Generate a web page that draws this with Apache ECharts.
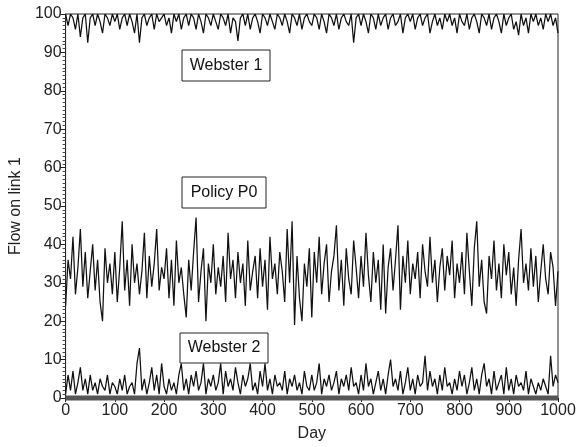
<!DOCTYPE html>
<html><head><meta charset="utf-8">
<script src="https://cdn.jsdelivr.net/npm/echarts@6/dist/echarts.min.js"></script>
<style>html,body{margin:0;padding:0;background:#fff}#c{width:579px;height:447px}</style>
</head><body><div id="c"></div>
<script>
// sampled every 5 days, day 0 .. 1000
const dayStep = 5;
const webster1 = [
100,97,100,99,96,100,94,99,100,92.5,
99,100,97,100,98,95,100,99,97,100,
98,100,96,99,100,97,100,98,95,100,
92.5,99,100,97,99,100,96,100,98,99,
100,97,99,95,100,98,100,96,99,100,
97,100,99,96,100,98,95,100,99,97,
100,98,96,100,99,97,100,95,99,98,
93,99,100,97,100,96,99,100,98,95,
100,99,97,100,98,96,100,99,97,100,
98,95,100,99,97,100,96,99,100,98,
97,100,99,96,100,98,95,100,99,97,
100,96,99,100,98,97,100,92.5,99,100,
97,100,98,95,100,99,96,100,97,99,
100,96,99,100,97,98,100,95,99,100,
98,100,96,99,100,97,99,100,95,98,
100,97,99,96,100,98,100,97,99,95,
100,98,97,100,96,99,100,98,95,100,
99,97,100,96,99,100,98,95,100,97,
99,100,96,98,94.5,100,97,99,95,100,
98,100,97,99,96,100,98,100,97,99,
95];
const policyP0 = [
24,36,31,42,27,34,44,29,38,26,
33,40,28,36,25,20,39,30,35,27,
38,25,34,46,28,36,24,40,30,35,
27,33,43,26,37,29,35,44,28,34,
31,39,26,36,24,41,30,34,27,21,
36,28,38,47,25,33,39,20,35,30,
40,27,34,29,37,25,43,31,36,26,
38,30,35,24,41,28,33,37,26,39,
29,36,23,42,31,35,27,38,33,25,
44,30,46,19,37,26,20,35,29,39,
21,38,30,42,27,35,40,25,33,37,
45,28,36,24,39,31,27,41,34,26,
37,29,43,32,25,38,30,36,23,40,
22,34,39,28,36,45,23,37,30,41,
27,35,31,38,26,40,33,29,42,30,
36,25,34,39,28,37,32,41,26,35,
30,38,27,43,33,24,39,46,29,36,
25,22,37,31,41,28,35,26,40,32,
38,27,34,24,36,44,30,35,28,39,
29,37,25,33,40,31,27,38,34,24,
33];
const webster2 = [
1,6,2,7,1,4,8,2,5,1,
6,2,4,1,5,3,2,6,1,4,
3,1,5,2,6,1,3,4,1,9,
13,2,5,1,4,8,2,6,1,9,
3,1,5,2,4,1,6,9,2,5,
1,6,3,7,2,4,9,1,5,3,
6,2,4,9,1,7,3,5,2,8,
4,1,6,3,5,9,2,4,1,7,
3,9,2,5,1,6,3,4,2,7,
1,5,3,6,2,4,1,7,3,2,
6,2,4,9,1,5,3,6,2,4,
7,1,5,3,6,2,8,3,4,1,
6,2,9,3,5,1,4,7,2,5,
1,6,10,3,5,2,7,1,4,8,
2,5,1,6,3,4,11,2,7,3,
5,1,6,2,8,3,4,1,5,2,
7,3,6,1,4,8,2,5,1,6,
9,3,5,1,7,2,4,6,1,8,
2,5,1,6,3,4,2,7,1,5,
3,1,4,2,5,3,1,11,3,6,
4];
const zeroFlow = [0, 0];
const zeroDays = [0, 1000];
const xTicks = [0,100,200,300,400,500,600,700,800,900,1000];
const yTicks = [0,10,20,30,40,50,60,70,80,90,100];
const labels = ['Webster 1', 'Policy P0', 'Webster 2'];

const pairs = arr => arr.map((v, i) => [i * dayStep, v]);
const FONT = '"Liberation Sans", Arial, sans-serif';
const lineSeries = (name, arr) => ({
  name, type: 'line', data: pairs(arr), showSymbol: false, symbol: 'none',
  lineStyle: { color: '#111', width: 1.25 }, animation: false, z: 3
});
const chart = echarts.init(document.getElementById('c'));
chart.setOption({
  backgroundColor: '#fff',
  animation: false,
  grid: { left: 65, right: 21, top: 14, bottom: 49, show: true, borderColor: '#222', borderWidth: 1 },
  xAxis: {
    type: 'value', min: xTicks[0], max: xTicks[xTicks.length-1], interval: 100,
    name: 'Day', nameLocation: 'middle', nameGap: 28,
    nameTextStyle: { fontFamily: FONT, fontSize: 16, color: '#222' },
    axisLine: { lineStyle: { color: '#222' } },
    axisTick: { show: true, length: 4, lineStyle: { color: '#222' } },
    axisLabel: { fontFamily: FONT, fontSize: 16, color: '#222', margin: 5, formatter: v => String(v) },
    splitLine: { show: false }
  },
  yAxis: {
    type: 'value', min: yTicks[0], max: yTicks[yTicks.length-1], interval: 10,
    name: 'Flow on link 1', nameLocation: 'middle', nameGap: 40,
    nameTextStyle: { fontFamily: FONT, fontSize: 16, color: '#222' },
    axisLine: { lineStyle: { color: '#222' } },
    axisTick: { show: true, length: 5, lineStyle: { color: '#222' } },
    minorTick: { show: true, splitNumber: 10, length: 3, lineStyle: { color: '#444' } },
    axisLabel: { fontFamily: FONT, fontSize: 16, color: '#222', margin: 4, formatter: v => String(v) },
    splitLine: { show: false }
  },
  series: [
    lineSeries('Webster 1', webster1),
    lineSeries('Policy P0', policyP0),
    lineSeries('Webster 2', webster2),
    { name: 'zero', type: 'line', data: zeroDays.map((d, i) => [d, zeroFlow[i]]), showSymbol: false,
      symbol: 'none', clip: false, lineStyle: { color: '#555', width: 5 }, z: 2 }
  ],
  graphic: [
    { type: 'rect', shape: { x: 182, y: 50, width: 88, height: 31 }, style: { fill: '#fff', stroke: '#222', lineWidth: 1 }, z: 10 },
    { type: 'text', x: 226, y: 66, style: { text: labels[0], font: '16px ' + FONT, fill: '#111', align: 'center', verticalAlign: 'middle' }, z: 11 },
    { type: 'rect', shape: { x: 182, y: 177, width: 84, height: 31 }, style: { fill: '#fff', stroke: '#222', lineWidth: 1 }, z: 10 },
    { type: 'text', x: 224, y: 193, style: { text: labels[1], font: '16px ' + FONT, fill: '#111', align: 'center', verticalAlign: 'middle' }, z: 11 },
    { type: 'rect', shape: { x: 180, y: 333, width: 88, height: 30 }, style: { fill: '#fff', stroke: '#222', lineWidth: 1 }, z: 10 },
    { type: 'text', x: 224, y: 348, style: { text: labels[2], font: '16px ' + FONT, fill: '#111', align: 'center', verticalAlign: 'middle' }, z: 11 }
  ]
});
</script>
</body></html>
